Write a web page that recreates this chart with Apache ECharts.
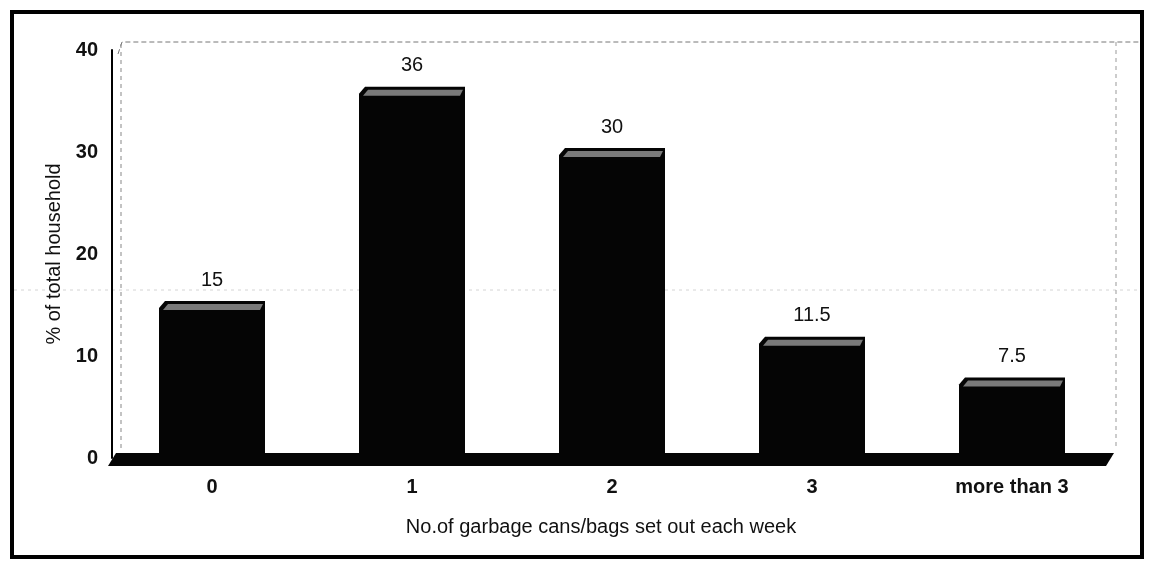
<!DOCTYPE html>
<html><head><meta charset="utf-8">
<script src="https://cdn.jsdelivr.net/npm/echarts@6/dist/echarts.min.js"></script>
<style>html,body{margin:0;padding:0;background:#fff}#c{width:1150px;height:563px}</style>
</head><body><div id="c"></div>
<script>
var categories = ['0', '1', '2', '3', 'more than 3'];
var values = [15, 36, 30, 11.5, 7.5];
var yTicks = [0, 10, 20, 30, 40];

var chart = echarts.init(document.getElementById('c'));
var FONT = '"Liberation Sans", Arial, sans-serif';

function barItem(params, api) {
  var x = api.value(0);
  var v = api.value(1);
  var top = api.coord([x, v]);
  var base = api.coord([x, 0]);
  var w = api.size([1, 0])[0] * 0.53;
  var l = top[0] - w / 2, r = top[0] + w / 2;
  var t = top[1] - 4, b = base[1];
  return {
    type: 'group',
    children: [
      { type: 'polygon', shape: { points: [[l, t + 7], [l + 6, t], [r, t], [r, b], [l, b]] },
        style: { fill: '#050505' } },
      { type: 'polygon', shape: { points: [[l + 4, t + 9], [l + 9, t + 3], [r - 2, t + 3], [r - 5, t + 9]] },
        style: { fill: '#7a7a7a' } },
      { type: 'text', style: { text: String(v), x: top[0], y: t - 11, align: 'center', verticalAlign: 'bottom',
        font: '20px ' + FONT, fill: '#111' } }
    ]
  };
}

function floorItem(params, api) {
  var cs = params.coordSys;
  var y0 = api.coord([0, 0])[1];
  var x0 = cs.x - 4, x1 = cs.x + cs.width + 2;
  return {
    type: 'polygon',
    shape: { points: [[x0 + 8, y0 - 5], [x1, y0 - 5], [x1 - 8, y0 + 8], [x0, y0 + 8]] },
    style: { fill: '#050505' },
    z2: 0
  };
}

chart.setOption({
  animation: false,
  backgroundColor: '#fff',
  graphic: [
    { type: 'rect', shape: { x: 12, y: 12, width: 1130, height: 545 }, style: { fill: 'none', stroke: '#000', lineWidth: 4 } },
    { type: 'line', shape: { x1: 14, y1: 290, x2: 1140, y2: 290 }, style: { stroke: '#d4d4d4', lineWidth: 1, lineDash: [3, 4] } },
    { type: 'polyline', shape: { points: [[118, 54], [122, 42], [1140, 42]] }, style: { stroke: '#777', lineWidth: 1, lineDash: [5, 3], fill: 'none' } },
    { type: 'line', shape: { x1: 121, y1: 44, x2: 121, y2: 452 }, style: { stroke: '#888', lineWidth: 1, lineDash: [4, 4] } },
    { type: 'line', shape: { x1: 1116, y1: 42, x2: 1116, y2: 450 }, style: { stroke: '#999', lineWidth: 1, lineDash: [4, 4] } }
  ],
  grid: { left: 112, right: 38, top: 50, bottom: 105, containLabel: false },
  xAxis: {
    type: 'category',
    data: categories,
    axisLine: { show: false },
    axisTick: { show: false },
    axisLabel: { fontFamily: FONT, fontWeight: 'bold', fontSize: 20, color: '#111', margin: 19 },
    name: 'No.of garbage cans/bags set out each week',
    nameLocation: 'middle',
    nameGap: 59,
    nameTextStyle: { fontFamily: FONT, fontSize: 20, color: '#111', padding: [0, 22, 0, 0] }
  },
  yAxis: {
    type: 'value',
    min: yTicks[0], max: yTicks[yTicks.length - 1], interval: 10,
    axisLine: { show: true, lineStyle: { color: '#000', width: 2 } },
    axisTick: { show: false },
    splitLine: { show: false },
    axisLabel: { fontFamily: FONT, fontWeight: 'bold', fontSize: 20, color: '#111', margin: 14 },
    name: '% of total household',
    nameLocation: 'middle',
    nameGap: 48,
    nameRotate: 90,
    nameTextStyle: { fontFamily: FONT, fontSize: 20, color: '#111' }
  },
  series: [
    { type: 'custom', renderItem: floorItem, data: [[0, 0]], z: 1, silent: true },
    { type: 'custom', renderItem: barItem, data: values.map(function (v, i) { return [i, v]; }), z: 2 }
  ]
});
</script></body></html>
